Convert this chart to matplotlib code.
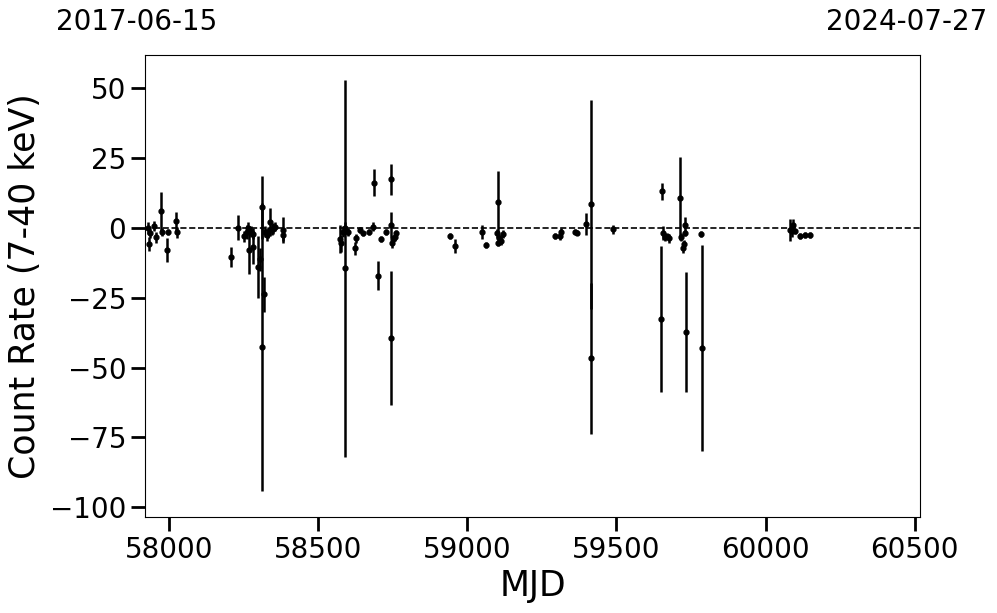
import matplotlib
matplotlib.use("Agg")
import matplotlib.pyplot as plt
import numpy as np

# MJD, count rate, 1-sigma error
mjd = [57930, 57933, 57936, 57949, 57956, 57973, 57975, 57994, 57997, 58023, 58025,
       58206, 58232, 58251, 58260, 58265, 58269, 58273, 58280, 58282, 58299, 58305,
       58313, 58313, 58319, 58320, 58328, 58333, 58338, 58344, 58349, 58355, 58381, 58383,
       58573, 58576, 58584, 58591, 58589, 58601, 58623, 58627, 58640, 58651, 58671,
       58685, 58687, 58701, 58712, 58727, 58744, 58744, 58745, 58746, 58751, 58757, 58760,
       58942, 58959, 59050, 59062, 59101, 59104, 59104.5, 59101.5, 59112, 59119,
       59294, 59311, 59313, 59361, 59367, 59397, 59416, 59416, 59489,
       59654, 59649, 59657, 59663, 59669, 59677, 59713, 59715, 59730, 59730.5, 59724,
       59728, 59732, 59784, 59788,
       60082, 60089, 60093, 60098, 60115, 60132, 60149]
rate = [0.0, -5.7, -1.9, 0.7, -3.3, 6.0, -1.3, -7.9, -1.5, 2.4, -1.5,
        -10.5, 0.2, -2.9, -1.3, -0.1, -7.9, -1.3, -2.0, -6.9, -14.0, -11.2,
        7.4, -42.6, -23.7, -1.3, -2.5, -1.5, 2.3, -0.5, -0.3, 0.5, -0.7, -2.5,
        -3.9, -5.5, -1.3, -14.4, 0.0, -1.3, -7.3, -3.7, -0.7, -1.9, -1.5,
        0.5, 16.3, -17.1, -3.9, -1.4, 17.5, -39.4, 1.1, -5.5, -4.0, -3.1, -1.8,
        -2.9, -6.4, -1.4, -6.1, -1.9, 9.4, -3.7, -5.5, -4.5, -2.1,
        -2.9, -2.7, -1.3, -1.3, -1.6, 1.4, 8.5, -46.6, -0.5,
        13.2, -32.6, -1.9, -3.1, -3.0, -3.7, 10.6, -3.1, 1.1, -1.7, -7.3,
        -5.6, -37.3, -2.1, -43.0,
        -0.6, -1.2, 1.1, -1.2, -2.9, -2.5, -2.5]
err = [2.0, 2.5, 1.5, 1.8, 2.0, 7.0, 1.5, 4.3, 1.0, 3.5, 2.0,
       3.6, 4.4, 2.0, 2.5, 2.2, 8.6, 2.0, 2.0, 6.0, 11.0, 4.0,
       11.2, 51.6, 6.3, 2.0, 2.0, 2.0, 5.0, 2.0, 2.0, 1.5, 4.5, 2.0,
       5.0, 3.0, 2.0, 67.6, 2.0, 1.5, 2.2, 1.5, 1.0, 1.0, 1.0,
       1.5, 4.7, 5.2, 1.0, 1.0, 5.5, 24.0, 4.6, 1.5, 1.5, 1.5, 1.0,
       1.0, 2.5, 2.5, 1.0, 1.5, 11.0, 1.5, 1.0, 1.5, 1.5,
       1.0, 1.5, 1.5, 1.0, 1.0, 3.9, 37.5, 27.0, 1.5,
       3.0, 26.0, 2.5, 1.5, 1.0, 1.5, 15.0, 1.5, 3.0, 1.0, 1.5,
       1.5, 21.4, 1.0, 36.8,
       4.0, 2.0, 2.0, 1.0, 1.0, 1.0, 1.0]

start_date = "2017-06-15"
end_date = "2024-07-27"
xlim = (57919, 60518)

fig = plt.figure(figsize=(9.97, 6.13), dpi=100)
ax = fig.add_axes([145/997, 96/613, 775/997, 462/613])

ax.errorbar(mjd, rate, yerr=err, fmt="o", color="black", ms=3.5, elinewidth=1.8, capsize=0)
ax.axhline(0, color="black", linestyle="--", linewidth=1.2)

ax.set_xlim(*xlim)
ax.set_ylim(-103.5, 62)
ax.set_xticks([58000, 58500, 59000, 59500, 60000, 60500])
ax.set_yticks([50, 25, 0, -25, -50, -75, -100])
ax.tick_params(axis="both", labelsize=20, length=10, width=2)
ax.set_xlabel("MJD", fontsize=25, labelpad=4)
ax.set_ylabel("Count Rate (7-40 keV)", fontsize=25, labelpad=6)

fig.text(137/997, 1 - 22/613, start_date, fontsize=20, ha="center", va="center")
fig.text(907/997, 1 - 22/613, end_date, fontsize=20, ha="center", va="center")

fig.savefig("out.png", dpi=100)
